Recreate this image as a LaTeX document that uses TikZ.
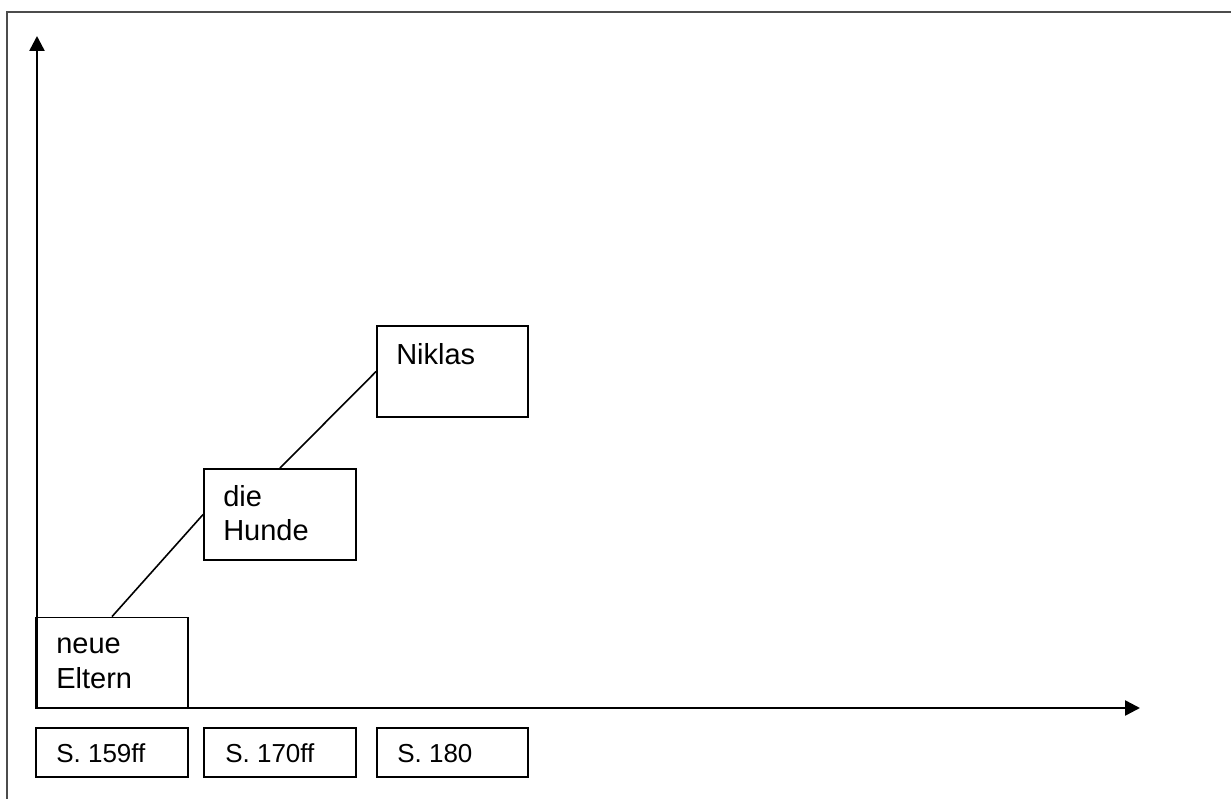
\documentclass[tikz,border=0pt]{standalone}
\usepackage{fontspec}
\setmainfont{Liberation Sans}
\usetikzlibrary{arrows.meta}
\tikzset{
  box/.style={draw=black, line width=1.8pt, rectangle, inner sep=0pt, minimum width=152pt},
  bigbox/.style={box, minimum height=91pt},
  smallbox/.style={box, minimum height=49pt},
  txt/.style={anchor=base west, inner sep=0pt, font=\fontsize{29}{35}\selectfont},
  stxt/.style={txt, font=\fontsize{26}{30}\selectfont},
  axis/.style={line width=2.5pt, -{Triangle[length=15pt,width=15pt]}},
  conn/.style={line width=1.6pt},
  frame/.style={draw=black!70, line width=2pt}
}
\begin{document}
\begin{tikzpicture}[x=1pt,y=-1pt]
\useasboundingbox (0,0) rectangle (1231,799);
\fill[white] (0,0) rectangle (1231,799);
% frame (top and left edges)
\draw[frame] (7,799) -- (7,12) -- (1231,12);
% boxes
\node[bigbox] (eltern) at (112,663) {};
\node[bigbox] (hunde) at (280,514.5) {};
\node[bigbox, minimum width=151pt] (niklas) at (452.5,371.5) {};
\node[smallbox] (s1) at (112,752.5) {};
\node[smallbox] (s2) at (280,752.5) {};
\node[smallbox, minimum width=151pt] (s3) at (452.5,752.5) {};
% axes
\coordinate (origin) at (37,708);
\coordinate (ytip) at (37,36);
\coordinate (xtip) at (1140,708);
\draw[axis] (origin) -- (ytip);
\draw[axis] (origin) -- (xtip);
% connectors
\draw[conn] (eltern.north) -- (hunde.west);
\draw[conn] (hunde.north) -- (niklas.west);
% texts
\node[txt] (t1a) at ([xshift=21pt,yshift=-37pt]eltern.north west) {neue};
\node[txt] (t1b) at ([xshift=21pt,yshift=-72pt]eltern.north west) {Eltern};
\node[txt] (t2a) at ([xshift=20pt,yshift=-38pt]hunde.north west) {die};
\node[txt] (t2b) at ([xshift=20pt,yshift=-72pt]hunde.north west) {Hunde};
\node[txt] (t3) at ([xshift=20pt,yshift=-39pt]niklas.north west) {Niklas};
\node[stxt] (u1) at ([xshift=21pt,yshift=-35pt]s1.north west) {S. 159ff};
\node[stxt] (u2) at ([xshift=22pt,yshift=-35pt]s2.north west) {S. 170ff};
\node[stxt] (u3) at ([xshift=21pt,yshift=-35pt]s3.north west) {S. 180};
\end{tikzpicture}
\end{document}
